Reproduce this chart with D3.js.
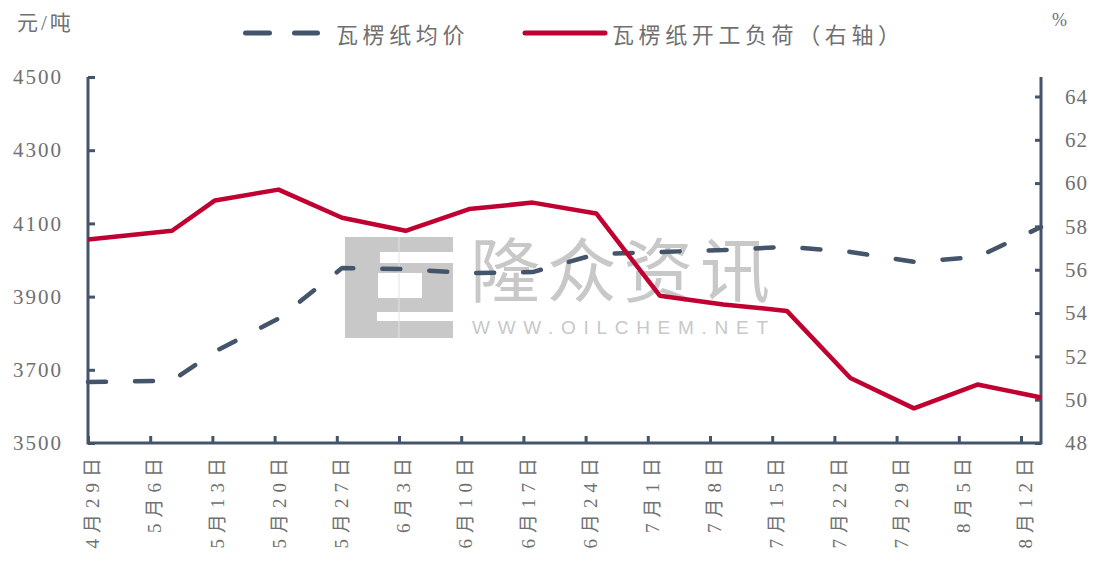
<!DOCTYPE html>
<html>
<head>
<meta charset="utf-8">
<script src="https://cdn.jsdelivr.net/npm/d3@7"></script>
<style>
  body { margin: 0; background: #fff; }
  svg { display: block; }
</style>
</head>
<body>
<script>
// weekly dates, price (元/吨) and operating load (%)
let dates = ["4月29日","5月6日","5月13日","5月20日","5月27日","6月3日","6月10日","6月17日",
             "6月24日","7月1日","7月8日","7月15日","7月22日","7月29日","8月5日","8月12日"];
let price = [3667, 3670, 3750, 3840, 3978, 3975, 3964, 3967,
             4016, 4022, 4027, 4036, 4022, 3995, 4008, 4090];
let load = [57.4, 57.8, 59.2, 59.7, 58.4, 57.8, 58.8, 59.1,
            58.6, 54.8, 54.4, 54.1, 51.0, 49.6, 50.7, 50.1];
let leftTicks = [3500, 3700, 3900, 4100, 4300, 4500];
let rightTicks = [48, 50, 52, 54, 56, 58, 60, 62, 64];

let w = 1096, h = 567;
let plotL = 88, plotR = 1041, plotT = 77, plotB = 443;
let axisColor = "#44546A", priceColor = "#44546A", loadColor = "#C00030";
let textColor = "#707070";
let cjk = "'Liberation Serif', 'Noto Sans CJK SC', serif";

let svg = d3.select("body").append("svg").attr("width", w).attr("height", h);

// category axis ticks stop short of the right axis, the lines run to it
let xAxis = d3.scalePoint().domain(dates).range([plotL, 1021]);
let idx = d3.scaleLinear().domain([0, 1, 2, 15]).range([plotL, 172, 215, plotR]);
let yL = d3.scaleLinear().domain([3500, 4500]).range([plotB, plotT]);
let yR = d3.scaleLinear().domain([48, 64.9]).range([plotB, plotT]);

// watermark
let wm = svg.append("g").attr("fill", "#c8c8c8");
wm.append("rect").attr("x", 345).attr("y", 237).attr("width", 108).attr("height", 101);
wm.append("rect").attr("x", 380).attr("y", 252).attr("width", 73).attr("height", 11).attr("fill", "#fff");
wm.append("rect").attr("x", 378).attr("y", 273).attr("width", 44).attr("height", 25).attr("fill", "#fff");
wm.append("rect").attr("x", 377).attr("y", 312).attr("width", 76).attr("height", 9).attr("fill", "#fff");
wm.append("line").attr("x1", 399).attr("x2", 399).attr("y1", 237).attr("y2", 338)
  .attr("stroke", "#e2e2e2").attr("stroke-width", 1);
wm.append("text").attr("x", 470).attr("y", 297).attr("font-family", "'Noto Sans CJK SC'")
  .attr("font-size", 70).attr("textLength", 300).text("隆众资讯");
wm.append("text").attr("x", 472).attr("y", 334).attr("font-family", "'Liberation Sans', sans-serif")
  .attr("font-size", 19).attr("textLength", 296).attr("lengthAdjust", "spacing").text("WWW.OILCHEM.NET");

// axes
let gL = svg.append("g").attr("transform", "translate(" + plotL + ",0)")
  .call(d3.axisLeft(yL).tickValues(leftTicks).tickFormat(d3.format("d"))
    .tickSize(-7).tickSizeOuter(0).tickPadding(25));
let gR = svg.append("g").attr("transform", "translate(" + plotR + ",0)")
  .call(d3.axisRight(yR).tickValues(rightTicks).tickSize(-6).tickSizeOuter(0).tickPadding(24));
let gB = svg.append("g").attr("transform", "translate(0," + plotB + ")")
  .call(d3.axisBottom(xAxis).tickSize(-7).tickSizeOuter(0));

[gL, gR, gB].forEach(g => {
  g.select(".domain").remove();
  g.selectAll(".tick line").attr("stroke", axisColor).attr("stroke-width", 3);
  g.selectAll(".tick text").attr("fill", textColor).attr("font-family", cjk).attr("font-size", 21);
});
gL.selectAll(".tick text").attr("letter-spacing", 2);
gR.selectAll(".tick text").attr("letter-spacing", 1);
gB.selectAll(".tick text")
  .attr("transform", "rotate(-90)")
  .attr("text-anchor", "end")
  .attr("x", -9).attr("y", 4).attr("dy", "0.35em")
  .attr("font-size", 19).attr("letter-spacing", 6);

let frame = svg.append("g").attr("stroke", axisColor).attr("stroke-width", 3).attr("fill", "none");
frame.append("path").attr("d", "M" + plotL + "," + plotT + "V" + plotB + "H" + plotR + "V" + plotT);

// series
let priceLine = d3.line().x((d, i) => idx(i)).y(d => yL(d));
let loadLine = d3.line().x((d, i) => idx(i)).y(d => yR(d));

svg.append("path").datum(price).attr("d", priceLine)
  .attr("fill", "none").attr("stroke", priceColor).attr("stroke-width", 4.5)
  .attr("stroke-dasharray", "18,29").attr("stroke-linecap", "round").attr("stroke-linejoin", "round");
svg.append("path").datum(load).attr("d", loadLine)
  .attr("fill", "none").attr("stroke", loadColor).attr("stroke-width", 4.5)
  .attr("stroke-linejoin", "round");

// legend and units
let leg = svg.append("g");
leg.append("line").attr("x1", 245.5).attr("x2", 317.5).attr("y1", 33).attr("y2", 33)
  .attr("stroke", priceColor).attr("stroke-width", 5).attr("stroke-linecap", "round")
  .attr("stroke-dasharray", "24,25");
leg.append("text").attr("x", 336).attr("y", 35).attr("dy", "0.35em")
  .attr("fill", textColor).attr("font-family", cjk).attr("font-size", 22)
  .attr("letter-spacing", 4.6).text("瓦楞纸均价");
leg.append("line").attr("x1", 525).attr("x2", 605).attr("y1", 33).attr("y2", 33)
  .attr("stroke", loadColor).attr("stroke-width", 5).attr("stroke-linecap", "round");
leg.append("text").attr("x", 612).attr("y", 35).attr("dy", "0.35em")
  .attr("fill", textColor).attr("font-family", cjk).attr("font-size", 22)
  .attr("letter-spacing", 4.6).text("瓦楞纸开工负荷（右轴）");

svg.append("text").attr("x", 17).attr("y", 23).attr("dy", "0.35em")
  .attr("fill", textColor).attr("font-family", cjk).attr("font-size", 21)
  .attr("letter-spacing", 3).text("元/吨");
svg.append("text").attr("x", 1052).attr("y", 20).attr("dy", "0.35em")
  .attr("fill", textColor).attr("font-family", cjk).attr("font-size", 18).text("%");
</script>
</body>
</html>
